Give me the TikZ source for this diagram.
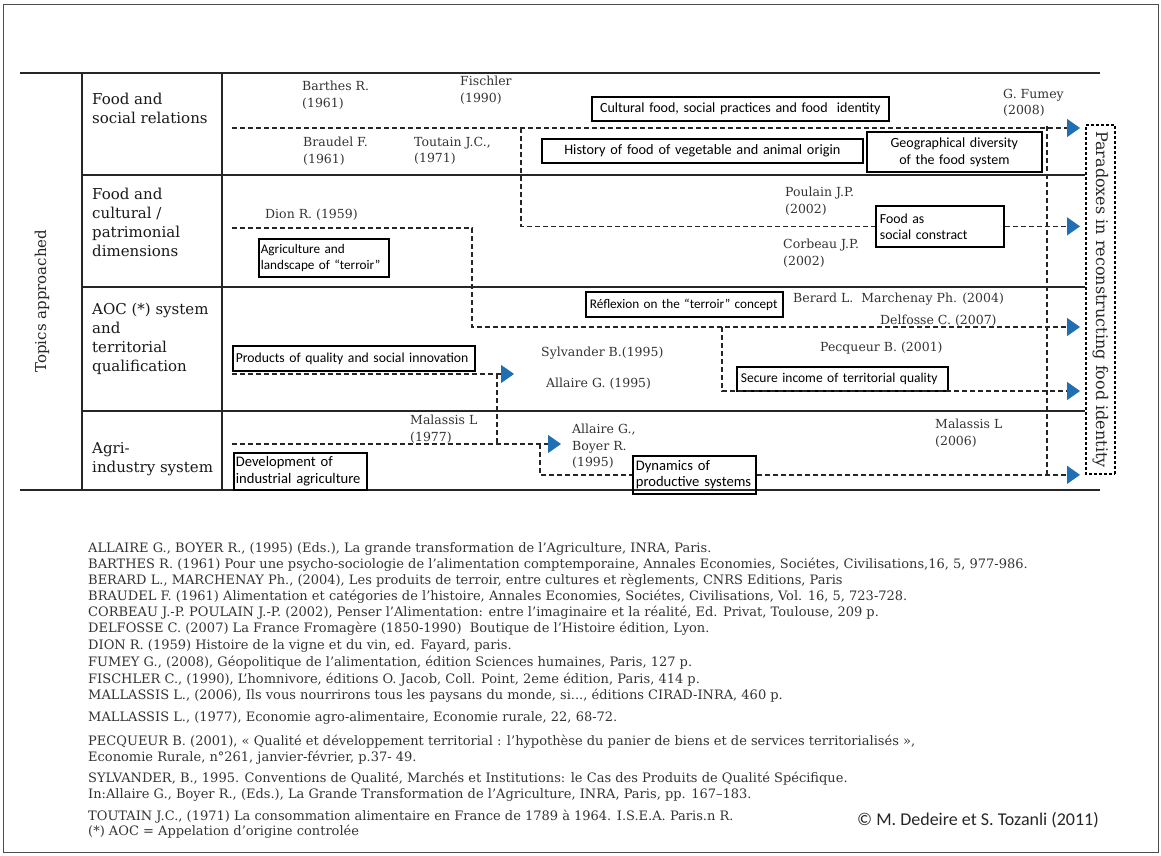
\documentclass[tikz,border=0pt]{standalone}
\usepackage{fontspec}
\setmainfont{DejaVu Serif}
\newfontfamily\boxfont{Carlito}
\usetikzlibrary{arrows.meta,positioning,calc}
\definecolor{arrowblue}{RGB}{31,111,178}
\tikzset{
  rowline/.style={line width=2pt, black!85},
  flowline/.style={line width=1.3pt, dash pattern=on 5pt off 3pt, black!85},
  flowarrow/.style={flowline, -{Triangle[length=13pt,width=18pt,color=arrowblue]}},
  tagbox/.style={draw, line width=1.7pt, font=\boxfont\fontsize{13.8}{16}\selectfont,
    inner xsep=4pt, inner ysep=1pt, align=left, anchor=north west},
  author/.style={font=\fontsize{12.5}{16.5}\selectfont, inner sep=0pt, align=left,
    anchor=north west, text=black!80},
  topic/.style={font=\fontsize{15}{19}\selectfont, inner sep=0pt, align=left,
    anchor=north west, text=black!90},
  refline/.style={font=\fontsize{13}{14}\selectfont, inner sep=0pt,
    anchor=base west, text=black!80}
}

\begin{document}
\begin{tikzpicture}[x=1pt,y=-1pt]
  \useasboundingbox (0,0) rectangle (1161,856);
  % Frame
  \draw[black!70, line width=1pt] (3,5) rectangle (1158,852);

  % Table rules
  \draw[rowline] (20,73) -- (1100,73);
  \draw[rowline] (20,490) -- (1100,490);
  \draw[rowline] (82,73) -- (82,490);
  \draw[rowline] (222,73) -- (222,490);
  \foreach \y in {175,287,411}
    \draw[rowline] (82,\y) -- (1085,\y);

  % Side titles
  \node[font=\fontsize{15}{19}\selectfont, rotate=90, text=black!85] (topics) at (42,301) {Topics approached};
  \node[draw, dash pattern=on 3pt off 2pt, line width=1.1pt, rotate=-90,
        minimum width=349pt, minimum height=29pt, inner sep=0pt,
        font=\fontsize{16}{19}\selectfont, text=black!85] (paradox) at (1100.5,299.5)
        {Paradoxes in reconstructing food identity};

  % Row headers
  \node[topic] (rowSocial) at (92,93) {Food and\\social relations};
  \node[topic] (rowCultural) at (92,188) {Food and\\cultural /\\patrimonial\\dimensions};
  \node[topic] (rowAoc) at (92,303) {AOC (*) system\\and\\territorial\\qualification};
  \node[topic] (rowAgri) at (92,442) {Agri-\\industry system};

  % Food and social relations
  \node[author] (barthes) at (302,81) {Barthes R.\\(1961)};
  \node[author] (fischler) at (460,76) {Fischler\\(1990)};
  \node[author] (fumey) at (1003,89) {G. Fumey\\(2008)};
  \node[author] (braudel) at (303,137) {Braudel F.\\(1961)};
  \node[author] (toutain) at (414,137) {Toutain J.C.,\\(1971)};
  \node[tagbox, text width=289pt, minimum height=24pt, align=center,
        font=\boxfont\fontsize{14}{16}\selectfont] (culturalbox) at (591,96)
    {Cultural food, social practices and food\ \ identity};
  \node[tagbox, text width=313pt, minimum height=24pt, align=center,
        font=\boxfont\fontsize{14.3}{16}\selectfont] (historybox) at (541,138)
    {History of food of vegetable and animal origin};
  \node[tagbox, text width=167pt, minimum height=40pt, align=center,
        font=\boxfont\fontsize{14}{17}\selectfont] (geobox) at (866,131)
    {Geographical diversity\\of the food system};

  % Food and cultural / patrimonial dimensions
  \node[author] (dion) at (265,209) {Dion R. (1959)};
  \node[author] (poulain) at (785,187) {Poulain J.P.\\(2002)};
  \node[author] (corbeau) at (783,239) {Corbeau J.P.\\(2002)};
  \node[tagbox, text width=126pt, minimum height=38pt, inner xsep=2pt,
        font=\boxfont\fontsize{13.2}{16}\selectfont] (terroirbox) at (258,238)
    {Agriculture and\\landscape of “terroir”};
  \node[tagbox, text width=120pt, minimum height=41pt] (socialbox) at (875,205)
    {Food as\\social constract};

  % AOC system and territorial qualification
  \node[tagbox, text width=189pt, minimum height=25pt,
        font=\boxfont\fontsize{13.2}{16}\selectfont] (reflexionbox) at (585,291)
    {Réflexion on the “terroir” concept};
  \node[author] (berard) at (793,293) {Berard L.\ \ Marchenay Ph. (2004)};
  \node[author] (delfosse) at (880,315) {Delfosse C. (2007)};
  \node[author] (sylvander) at (541,347) {Sylvander B.(1995)};
  \node[author] (pecqueur) at (820,342) {Pecqueur B. (2001)};
  \node[author] (allaireA) at (546,378) {Allaire G. (1995)};
  \node[tagbox, text width=236pt, minimum height=25pt, inner xsep=3pt,
        font=\boxfont\fontsize{13.7}{16}\selectfont] (productsbox) at (232,345)
    {Products of quality and social innovation};
  \node[tagbox, text width=203pt, minimum height=24pt,
        font=\boxfont\fontsize{13.5}{16}\selectfont] (securebox) at (736,366)
    {Secure income of territorial quality};

  % Agri-industry system
  \node[author] (malassisA) at (410,415) {Malassis L\\(1977)};
  \node[author] (allaireB) at (572,424) {Allaire G.,\\Boyer R.\\(1995)};
  \node[author] (malassisB) at (935,419) {Malassis L\\(2006)};
  \node[tagbox, text width=129pt, minimum height=37pt, inner xsep=2pt,
        font=\boxfont\fontsize{14.6}{16.5}\selectfont] (developbox) at (233,452)
    {Development of\\industrial agriculture};
  \node[tagbox, text width=117pt, minimum height=38pt, inner xsep=3pt,
        font=\boxfont\fontsize{14.6}{16.5}\selectfont] (dynamicsbox) at (632,455)
    {Dynamics of\\productive systems};

  % Dashed flows
  \coordinate (socStart) at (232,128);
  \coordinate (socTip) at (1080,128);
  \coordinate (socDrop) at (521,128);
  \draw[flowarrow] (socStart) -- (socTip);
  \draw[flowline] (socDrop) |- (socialbox.west);
  \draw[flowarrow] (socialbox.east) -- (socialbox.east -| socTip);

  \coordinate (dionStart) at (232,228);
  \coordinate (dionBend) at (472,228);
  \coordinate (aocTip) at (1080,327);
  \draw[flowarrow] (dionStart) -- (dionBend) |- (aocTip);

  \coordinate (pecDrop) at (722,327);
  \coordinate (qualTip) at (1080,391);
  \draw[flowarrow] (pecDrop) |- (qualTip);

  \coordinate (prodStart) at (232,374);
  \coordinate (prodTip) at (514,374);
  \coordinate (prodDrop) at (497,374);
  \draw[flowarrow] (prodStart) -- (prodTip);

  \coordinate (agriStart) at (232,444);
  \coordinate (agriTip) at (561,444);
  \coordinate (agriDrop) at (540,444);
  \draw[flowline] (prodDrop) -- (prodDrop |- agriStart);
  \draw[flowarrow] (agriStart) -- (agriTip);
  \draw[flowline] (agriDrop) |- (dynamicsbox.west);
  \draw[flowarrow] (dynamicsbox.east) -- (dynamicsbox.east -| socTip);

  \coordinate (collTop) at (1047,126);
  \draw[flowline] (collTop) -- (collTop |- dynamicsbox.east);

  % References
  \node[refline] (ref1) at (88,552) {ALLAIRE G., BOYER R., (1995) (Eds.), La grande transformation de l’Agriculture, INRA, Paris.};
  \node[refline] (ref2) at (88,568) {BARTHES R. (1961) Pour une psycho-sociologie de l'alimentation comptemporaine, Annales Economies, Sociétes, Civilisations,16, 5, 977-986.};
  \node[refline] (ref3) at (88,584) {BERARD L., MARCHENAY Ph., (2004), Les produits de terroir, entre cultures et règlements, CNRS Editions, Paris};
  \node[refline] (ref4) at (88,600) {BRAUDEL F. (1961) Alimentation et catégories de l'histoire, Annales Economies, Sociétes, Civilisations, Vol. 16, 5, 723-728.};
  \node[refline] (ref5) at (88,616) {CORBEAU J.-P. POULAIN J.-P. (2002), Penser l’Alimentation: entre l’imaginaire et la réalité, Ed. Privat, Toulouse, 209 p.};
  \node[refline] (ref6) at (88,632) {DELFOSSE C. (2007) La France Fromagère (1850-1990)\ \ Boutique de l'Histoire édition, Lyon.};
  \node[refline] (ref7) at (88,649) {DION R. (1959) Histoire de la vigne et du vin, ed. Fayard, paris.};
  \node[refline] (ref8) at (88,666) {FUMEY G., (2008), Géopolitique de l’alimentation, édition Sciences humaines, Paris, 127 p.};
  \node[refline] (ref9) at (88,683) {FISCHLER C., (1990), L’homnivore, éditions O. Jacob, Coll. Point, 2eme édition, Paris, 414 p.};
  \node[refline] (ref10) at (88,699) {MALLASSIS L., (2006), Ils vous nourrirons tous les paysans du monde, si..., éditions CIRAD-INRA, 460 p.};
  \node[refline] (ref11) at (88,721) {MALLASSIS L., (1977), Economie agro-alimentaire, Economie rurale, 22, 68-72.};
  \node[refline] (ref12) at (88,745) {PECQUEUR B. (2001), « Qualité et développement territorial : l'hypothèse du panier de biens et de services territorialisés »,};
  \node[refline] (ref13) at (88,761) {Economie Rurale, n°261, janvier-février, p.37- 49.};
  \node[refline] (ref14) at (88,782) {SYLVANDER, B., 1995. Conventions de Qualité, Marchés et Institutions: le Cas des Produits de Qualité Spécifique.};
  \node[refline] (ref15) at (88,798) {In:Allaire G., Boyer R., (Eds.), La Grande Transformation de l’Agriculture, INRA, Paris, pp. 167–183.};
  \node[refline] (ref16) at (88,820) {TOUTAIN J.C., (1971) La consommation alimentaire en France de 1789 à 1964. I.S.E.A. Paris.n R.};
  \node[refline] (ref17) at (88,835) {(*) AOC = Appelation d'origine controlée};
  \node[font=\boxfont\fontsize{18}{20}\selectfont, text=black!85, inner sep=0pt, anchor=west] (credit) at (857,820)
    {© M. Dedeire et S. Tozanli (2011)};
\end{tikzpicture}
\end{document}
